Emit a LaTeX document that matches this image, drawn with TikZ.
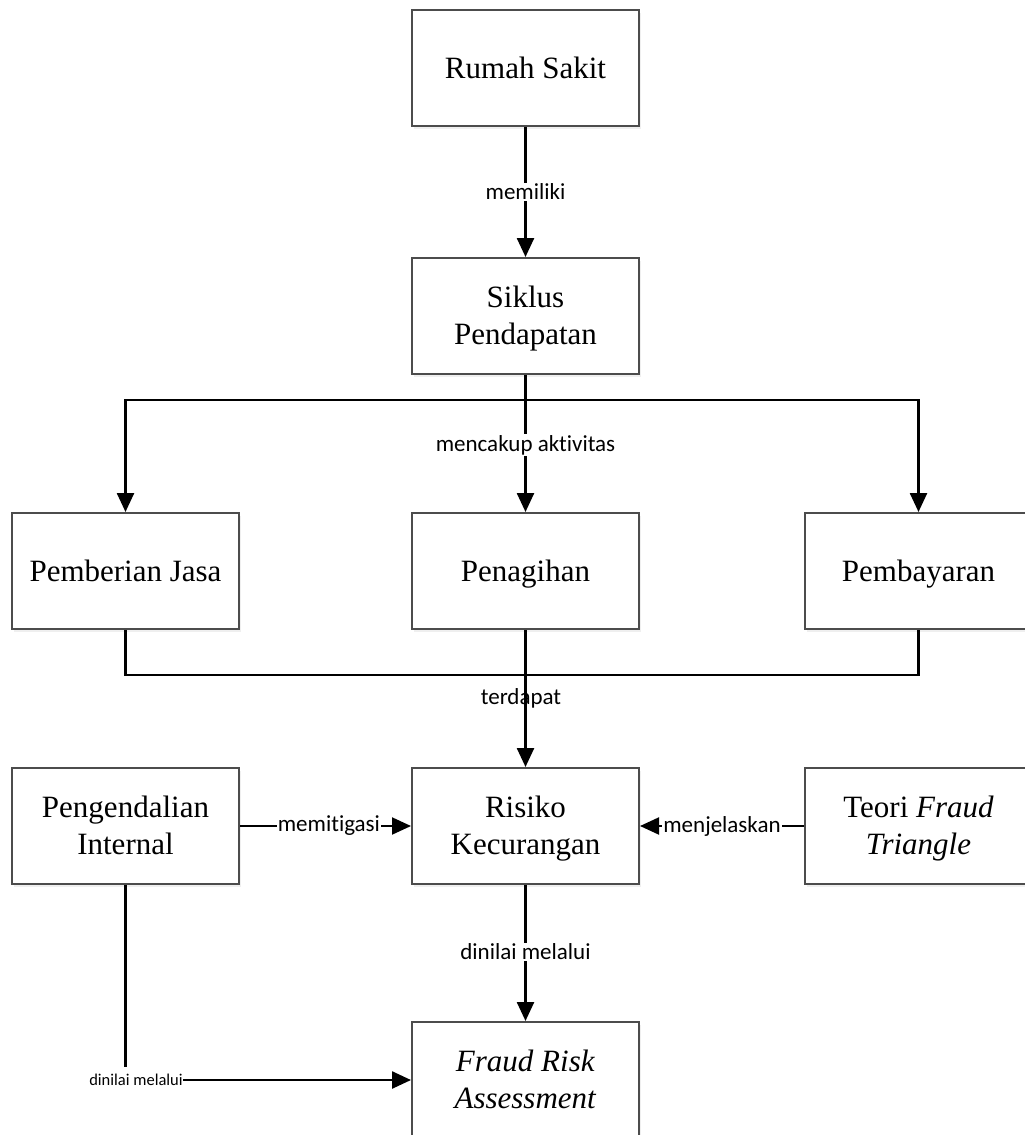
\documentclass[tikz,border=0pt]{standalone}
\usepackage{fontspec}
\setmainfont{Liberation Serif}
\newfontfamily\lblfont[Ligatures=NoCommon]{Carlito}
\usetikzlibrary{arrows.meta,shadows,calc}
\newcommand\bxs{\rule[-8pt]{0pt}{36pt}}
\begin{document}
\begin{tikzpicture}[x=1pt,y=-1pt,
  box/.style={draw=black!70, line width=2pt, fill=white, minimum width=227pt, minimum height=116pt,
    align=center, font=\fontsize{31}{37}\selectfont, inner sep=0pt,
    drop shadow={opacity=0.12, shadow xshift=2pt, shadow yshift=-3pt}},
  conn/.style={line width=2.5pt, draw=black},
  hconn/.style={line width=2pt, draw=black},
  arr/.style={-{Triangle[length=19pt,width=17pt]}},
  lbl/.style={font=\lblfont\fontsize{23}{27}\selectfont, fill=white, inner sep=1pt},
  lblnf/.style={font=\lblfont\fontsize{23}{27}\selectfont, inner sep=1pt},
  lblsm/.style={font=\lblfont\fontsize{16.5}{20}\selectfont, inner sep=0.5pt}
]
\useasboundingbox (0,0) rectangle (1025,1135);
\clip (0,0) rectangle (1025,1135);
\fill[white] (0,0) rectangle (1025,1135);

\node[box] (rs) at (525.5,68) {\bxs Rumah Sakit};
\node[box] (sp) at (525.5,316) {\bxs Siklus\\\bxs Pendapatan};
\node[box] (pj) at (125.5,571) {\bxs Pemberian Jasa};
\node[box] (pg) at (525.5,571) {\bxs Penagihan};
\node[box] (pb) at (918.5,571) {\bxs Pembayaran};
\node[box] (pi) at (125.5,826) {\bxs Pengendalian\\\bxs Internal};
\node[box] (rk) at (525.5,826) {\bxs Risiko\\\bxs Kecurangan};
\node[box] (tf) at (918.5,826) {\bxs Teori \textit{Fraud}\\\bxs\textit{Triangle}};
\node[box] (fra) at (525.5,1080) {\bxs\textit{Fraud Risk}\\\bxs\textit{Assessment}};

\coordinate (split) at (525.5,400);
\coordinate (join) at (525.5,675);

% Rumah Sakit -> Siklus
\draw[conn,arr] (rs.south) -- (sp.north) node[lbl,pos=0.5] {memiliki};

% Siklus -> three activities
\draw[conn] (sp.south) -- (split);
\draw[conn,arr] (split) -| (pj.north);
\draw[conn,arr] (split) -| (pb.north);
\draw[conn,arr] (split) -- (pg.north);
\node[lbl] (lmc) at (525.5,445) {mencakup aktivitas};

% activities -> Risiko
\draw[conn] (pj.south) |- (join);
\draw[conn] (pb.south) |- (join);
\draw[conn,arr] (pg.south) -- (rk.north);
\node[lblnf] (lter) at (521,698) {terdapat};

% horizontal
\draw[hconn,arr] (pi.east) -- (rk.west) node[lbl,pos=0.52] {memitigasi};
\draw[hconn,arr] (tf.west) -- (rk.east) node[lbl,pos=0.5] {menjelaskan};

% Risiko -> FRA
\draw[conn,arr] (rk.south) -- (fra.north) node[lbl,pos=0.49] {dinilai melalui};

% Pengendalian -> FRA
\coordinate (piend) at (125.5,1067);
\node[lblsm] (ldm) at (136,1080) {dinilai melalui};
\draw[conn] (pi.south) -- (piend);
\draw[conn,arr] (ldm.east) -- (fra.west);
\end{tikzpicture}
\end{document}
